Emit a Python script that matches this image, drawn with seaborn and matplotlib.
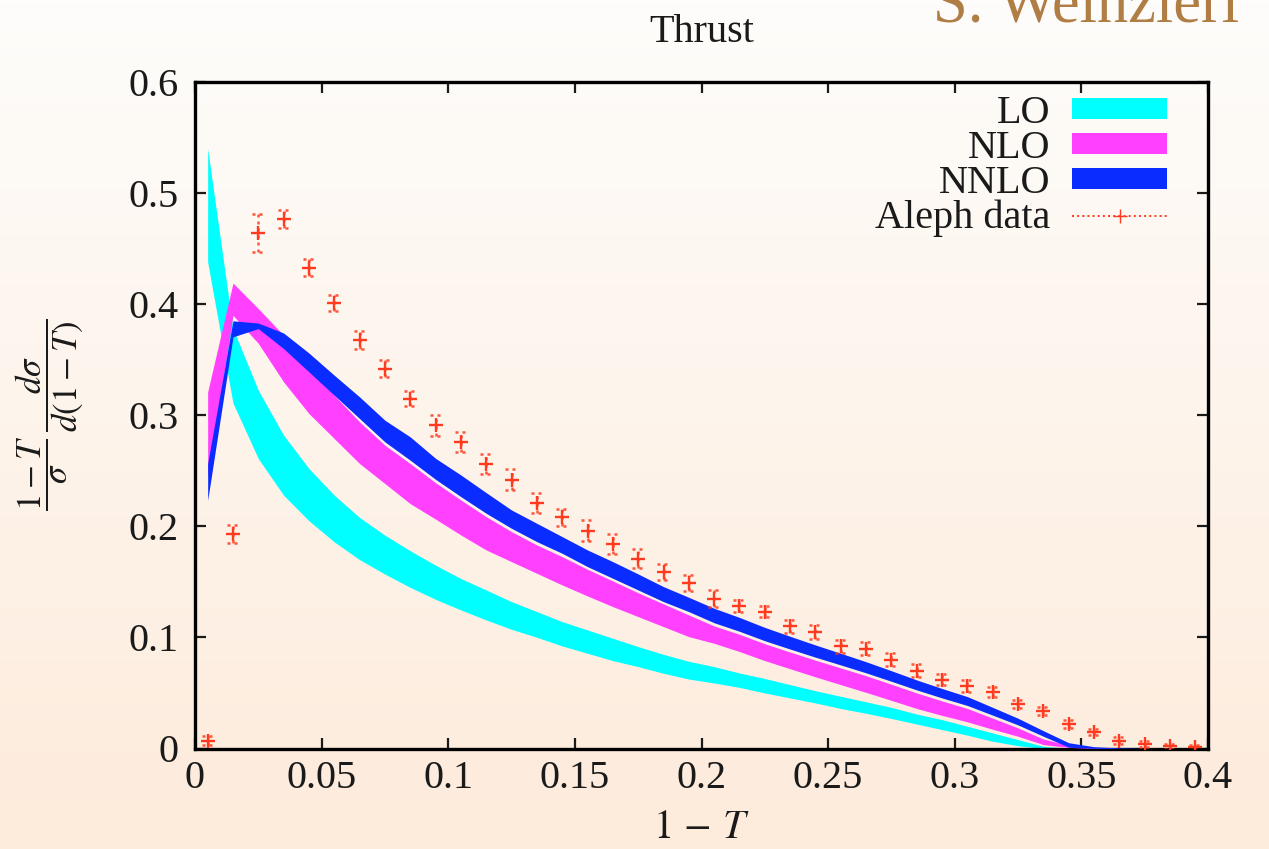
import numpy as np
import pandas as pd
import matplotlib
matplotlib.use("Agg")
import matplotlib.pyplot as plt
from matplotlib.patches import Patch
from matplotlib.lines import Line2D
import seaborn as sns

# ---------------- data ----------------
x_bins = [0.005, 0.015, 0.025, 0.035, 0.045, 0.055, 0.065, 0.075, 0.085, 0.095,
          0.105, 0.115, 0.125, 0.135, 0.145, 0.155, 0.165, 0.175, 0.185, 0.195,
          0.205, 0.215, 0.225, 0.235, 0.245, 0.255, 0.265, 0.275, 0.285, 0.295,
          0.305, 0.315, 0.325, 0.335, 0.345, 0.355, 0.365, 0.375, 0.385, 0.395]

lo_high = [0.540, 0.378, 0.3225, 0.282, 0.252, 0.228, 0.208, 0.192, 0.178, 0.165,
           0.153, 0.1427, 0.1322, 0.1232, 0.1142, 0.1067, 0.0992, 0.0917, 0.0847, 0.0785,
           0.0737, 0.068, 0.063, 0.0575, 0.052, 0.047, 0.042, 0.037, 0.031, 0.026,
           0.020, 0.014, 0.008, 0.002, 0.0, 0.0, 0.0, 0.0, 0.0, 0.0]
lo_low = [0.438, 0.311, 0.261, 0.228, 0.205, 0.186, 0.170, 0.157, 0.145, 0.1343,
          0.1247, 0.1157, 0.1073, 0.1001, 0.0923, 0.0857, 0.0791, 0.0737, 0.0677, 0.0625,
          0.0590, 0.055, 0.050, 0.0455, 0.041, 0.036, 0.0317, 0.027, 0.022, 0.017,
          0.012, 0.0065, 0.0025, 0.0, 0.0, 0.0, 0.0, 0.0, 0.0, 0.0]

nlo_high = [0.321, 0.419, 0.396, 0.372, 0.346, 0.318, 0.294, 0.273, 0.2565, 0.2393,
            0.2237, 0.2087, 0.1952, 0.1832, 0.1727, 0.1613, 0.1508, 0.1402, 0.1301, 0.1202,
            0.1103, 0.1028, 0.0943, 0.0868, 0.0795, 0.0725, 0.0655, 0.0578, 0.0500, 0.0428,
            0.036, 0.0273, 0.0185, 0.0085, 0.003, 0.001, 0.0, 0.0, 0.0, 0.0]
nlo_low = [0.245, 0.390, 0.3647, 0.330, 0.3015, 0.279, 0.2565, 0.2385, 0.2204, 0.2065,
           0.1922, 0.1787, 0.1682, 0.1577, 0.1472, 0.1373, 0.1277, 0.1187, 0.1097, 0.1007,
           0.0947, 0.0873, 0.0791, 0.0718, 0.0645, 0.0575, 0.0505, 0.0433, 0.036, 0.0298,
           0.024, 0.0173, 0.011, 0.0035, 0.001, 0.0, 0.0, 0.0, 0.0, 0.0]

nnlo_high = [0.2565, 0.385, 0.383, 0.374, 0.356, 0.336, 0.3165, 0.2955, 0.2805, 0.2612,
             0.2462, 0.2303, 0.2147, 0.2027, 0.1907, 0.1787, 0.1682, 0.1571, 0.1457, 0.1361,
             0.1262, 0.118, 0.109, 0.101, 0.0932, 0.0857, 0.0781, 0.070, 0.0617, 0.054,
             0.0467, 0.037, 0.0272, 0.016, 0.0052, 0.0016, 0.0005, 0.0, 0.0, 0.0]
nnlo_low = [0.2234, 0.3706, 0.378, 0.360, 0.339, 0.318, 0.297, 0.276, 0.2595, 0.2423,
            0.2267, 0.2117, 0.1982, 0.1862, 0.1757, 0.1637, 0.1532, 0.1427, 0.1322, 0.1232,
            0.1132, 0.1055, 0.097, 0.0895, 0.0822, 0.0752, 0.0681, 0.0605, 0.0527, 0.0455,
            0.0387, 0.030, 0.0212, 0.011, 0.0012, 0.0001, 0.0, 0.0, 0.0, 0.0]

aleph_y = [0.007, 0.193, 0.464, 0.477, 0.433, 0.401, 0.368, 0.342, 0.315, 0.291,
           0.276, 0.256, 0.242, 0.221, 0.208, 0.196, 0.184, 0.171, 0.159, 0.149,
           0.135, 0.128, 0.123, 0.110, 0.105, 0.092, 0.090, 0.080, 0.070, 0.062,
           0.056, 0.051, 0.040, 0.034, 0.022, 0.015, 0.007, 0.004, 0.002, 0.001]
aleph_err = [0.004, 0.008, 0.017, 0.008, 0.0075, 0.007, 0.008, 0.008, 0.007, 0.0095,
             0.009, 0.009, 0.0095, 0.009, 0.008, 0.0095, 0.009, 0.0087, 0.007, 0.007,
             0.0078, 0.0055, 0.005, 0.0057, 0.0065, 0.006, 0.0057, 0.006, 0.006, 0.0048,
             0.0054, 0.0042, 0.0037, 0.0035, 0.0033, 0.003, 0.003, 0.0025, 0.002, 0.002]

x_ticks = [0, 0.05, 0.1, 0.15, 0.2, 0.25, 0.3, 0.35, 0.4]
x_ticklabels = ["0", "0.05", "0.1", "0.15", "0.2", "0.25", "0.3", "0.35", "0.4"]
y_ticks = [0, 0.1, 0.2, 0.3, 0.4, 0.5, 0.6]
y_ticklabels = ["0", "0.1", "0.2", "0.3", "0.4", "0.5", "0.6"]

series_labels = ["LO", "NLO", "NNLO", "Aleph data"]

# ---------------- style ----------------
sns.set_theme(style="ticks")
plt.rcParams["font.family"] = ["Liberation Serif", "DejaVu Serif"]
plt.rcParams["mathtext.fontset"] = "stix"

C_LO = "#00ffff"
C_NLO = "#ff40ff"
C_NNLO = "#0a2cff"
C_DATA = "#ff3a1e"
FS = 29

fig = plt.figure(figsize=(12.69, 8.49), dpi=100)

# background gradient
bg = fig.add_axes([0, 0, 1, 1], zorder=-10)
top = np.array([254, 253, 251]) / 255.0
bot = np.array([253, 235, 219]) / 255.0
t = np.linspace(0, 1, 256)[:, None]
grad = (top[None, :] * (1 - t) + bot[None, :] * t)[:, None, :]
bg.imshow(grad, aspect="auto", extent=[0, 1, 0, 1])
bg.set_axis_off()

ax = fig.add_axes([195 / 1269, 1 - 748.5 / 849, 1013 / 1269, 666.5 / 849])
ax.set_facecolor("none")

xb = np.array(x_bins)
ax.fill_between(xb, lo_low, lo_high, color=C_LO, lw=0, zorder=2)
ax.fill_between(xb, nlo_low, nlo_high, color=C_NLO, lw=0, zorder=3)
ax.fill_between(xb, nnlo_low, nnlo_high, color=C_NNLO, lw=0, zorder=4)

df = pd.DataFrame({"x": x_bins, "y": aleph_y, "err": aleph_err})
ye = np.array(aleph_y)
er = np.array(aleph_err)
ekw = dict(colors=C_DATA, linestyles=(0, (1.2, 1.6)), linewidth=1.8, alpha=0.85, zorder=5)
ax.vlines(xb, ye - er, ye + er, **ekw)
ax.hlines(ye - er, xb - 0.0024, xb + 0.0024, **ekw)
ax.hlines(ye + er, xb - 0.0024, xb + 0.0024, **ekw)
sns.scatterplot(data=df, x="x", y="y", marker="+", s=110, color=C_DATA,
                linewidth=1.7, ax=ax, zorder=6, legend=False)

ax.set_xlim(0, 0.4)
ax.set_ylim(0, 0.6)
ax.set_xticks(x_ticks)
ax.set_xticklabels(x_ticklabels)
ax.set_yticks(y_ticks)
ax.set_yticklabels(y_ticklabels)
ax.tick_params(direction="in", length=8, width=1.6, top=True, right=True,
               labelsize=FS, colors="#1a1a1a")
ax.tick_params(axis="x", pad=8)
ax.tick_params(axis="y", pad=12)
for s in ax.spines.values():
    s.set_linewidth(2.4)
    s.set_color("black")

ax.set_xlabel(r"$1\,-\,T$", fontsize=FS, labelpad=10, color="#1a1a1a")
ax.set_ylabel(r"$\dfrac{1-T}{\sigma}\,\dfrac{d\sigma}{d(1-T)}$", fontsize=25, labelpad=30,
              color="#1a1a1a")
ax.set_title("Thrust", fontsize=FS, pad=29, color="#1a1a1a")

handles = [Patch(facecolor=C_LO, edgecolor="none"),
           Patch(facecolor=C_NLO, edgecolor="none"),
           Patch(facecolor=C_NNLO, edgecolor="none"),
           Line2D([0], [0], color=C_DATA, ls=":", lw=1.4, marker="+", markersize=10)]
leg = ax.legend(handles, series_labels, loc="upper right", bbox_to_anchor=(0.9595, 0.981),
                frameon=False, fontsize=FS, markerfirst=False, handlelength=2.35,
                handleheight=0.42, handletextpad=0.55, labelspacing=-0.05,
                borderpad=0, borderaxespad=0)
for txt in leg.get_texts():
    txt.set_color("#1a1a1a")

fig.text(933 / 1269, 1 - 22 / 849, "S. Weinzierl", fontsize=45, color="#b07d45",
         ha="left", va="baseline")

fig.savefig("out.png", dpi=100)
